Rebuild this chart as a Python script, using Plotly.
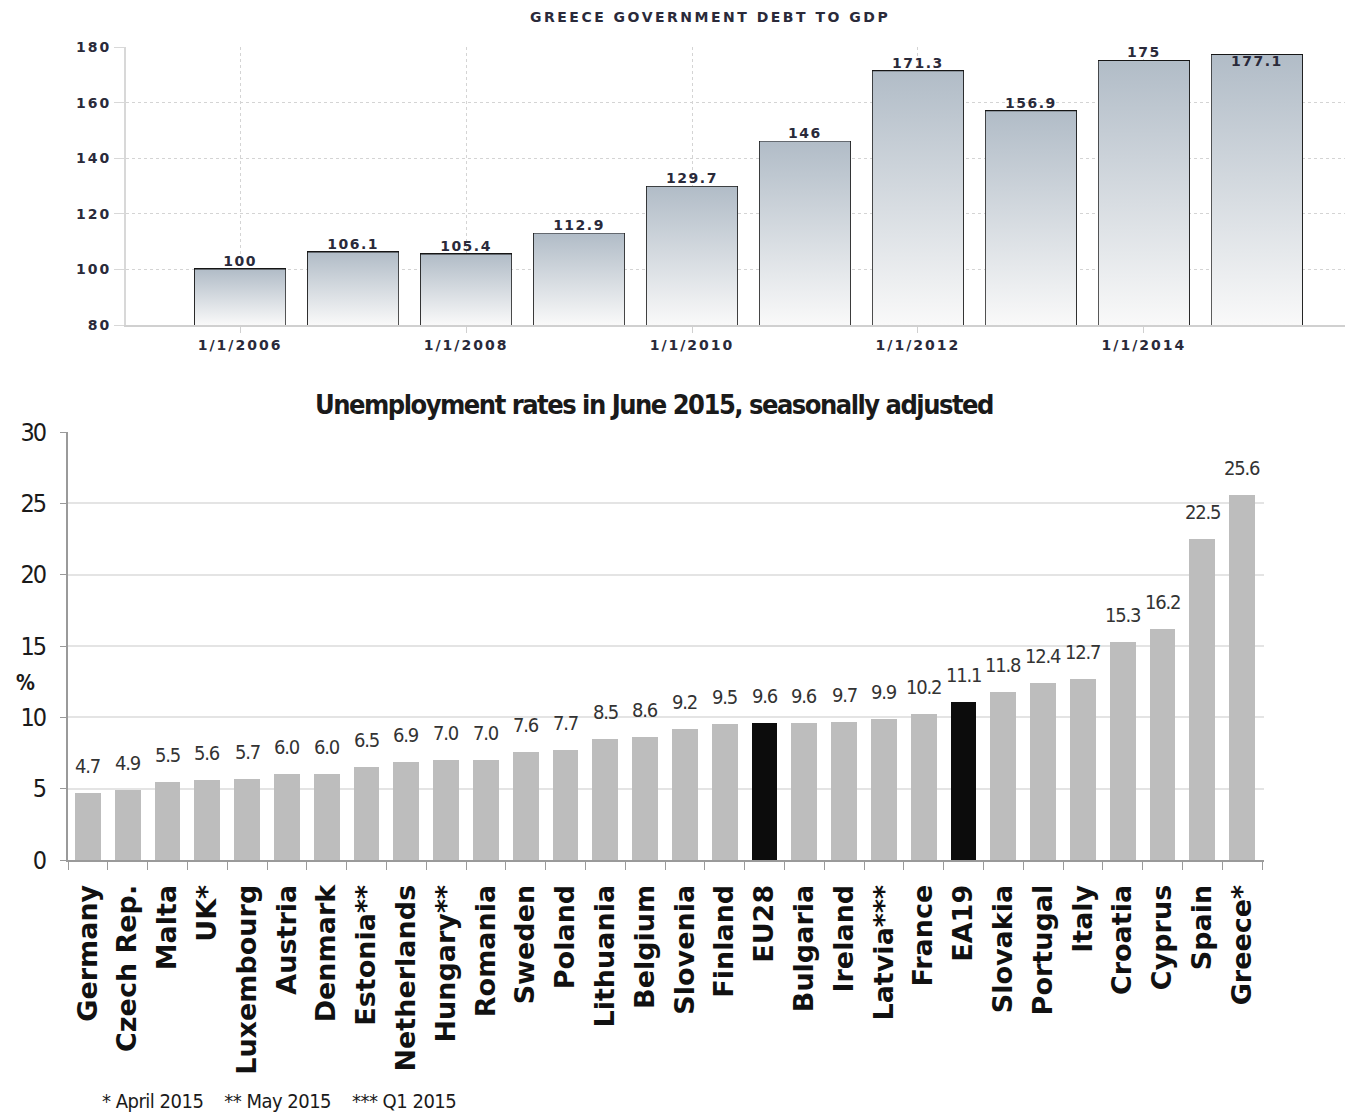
import plotly.graph_objects as go

# ---------------- data ----------------
debt_years = [2006, 2007, 2008, 2009, 2010, 2011, 2012, 2013, 2014, 2015]
debt_values = [100, 106.1, 105.4, 112.9, 129.7, 146, 171.3, 156.9, 175, 177.1]
debt_labels = ["100", "106.1", "105.4", "112.9", "129.7", "146", "171.3", "156.9", "175", "177.1"]
debt_tick_years = [2006, 2008, 2010, 2012, 2014]
debt_tick_labels = ["1/1/2006", "1/1/2008", "1/1/2010", "1/1/2012", "1/1/2014"]
debt_y_ticks = [80, 100, 120, 140, 160, 180]

countries = ["Germany", "Czech Rep.", "Malta", "UK*", "Luxembourg", "Austria", "Denmark",
             "Estonia**", "Netherlands", "Hungary**", "Romania", "Sweden", "Poland",
             "Lithuania", "Belgium", "Slovenia", "Finland", "EU28", "Bulgaria", "Ireland",
             "Latvia***", "France", "EA19", "Slovakia", "Portugal", "Italy", "Croatia",
             "Cyprus", "Spain", "Greece*"]
rates = [4.7, 4.9, 5.5, 5.6, 5.7, 6.0, 6.0, 6.5, 6.9, 7.0, 7.0, 7.6, 7.7, 8.5, 8.6,
         9.2, 9.5, 9.6, 9.6, 9.7, 9.9, 10.2, 11.1, 11.8, 12.4, 12.7, 15.3, 16.2, 22.5, 25.6]
highlight = ["EU28", "EA19"]
unemp_y_ticks = [0, 5, 10, 15, 20, 25, 30]

# ---------------- styles ----------------
W, H = 1346, 1115
TOP_FONT = "DejaVu Sans"
NARROW = "DejaVu Sans Condensed"
DEBT_BASE = 80
BAR_W = 0.8
TOP_TXT = "#2a2a3a"


def spaced(t, px=2):
    return f"<span style='letter-spacing:{px}px'>{t}</span>"


fig = go.Figure()

# gradient-filled bars (polygons built from the data values)
for yr, v in zip(debt_years, debt_values):
    x0, x1 = yr - BAR_W / 2, yr + BAR_W / 2
    fig.add_trace(go.Scatter(
        x=[x0, x0, x1, x1, x0], y=[DEBT_BASE, v, v, DEBT_BASE, DEBT_BASE],
        mode="lines", fill="toself", line=dict(width=0),
        fillgradient=dict(type="vertical",
                          colorscale=[[0, "#f9f9f9"], [1, "#b1bcc7"]]),
        hoverinfo="skip", showlegend=False, xaxis="x", yaxis="y"))

# bar outlines
fig.add_trace(go.Bar(
    x=debt_years, y=debt_values, width=BAR_W,
    marker=dict(color="rgba(0,0,0,0)", line=dict(color="#161616", width=2)),
    showlegend=False, xaxis="x", yaxis="y"))

# value labels for debt bars
fig.add_trace(go.Scatter(
    x=debt_years, y=debt_values, mode="text",
    text=[spaced(t, 1.5) for t in debt_labels],
    textposition=["top center"] * (len(debt_years) - 1) + ["bottom center"],
    textfont=dict(family=TOP_FONT, size=14, color=TOP_TXT, weight="bold"),
    cliponaxis=False, hoverinfo="skip", showlegend=False, xaxis="x", yaxis="y"))

# unemployment bars
colors = ["#0c0c0c" if c in highlight else "#bdbdbd" for c in countries]
fig.add_trace(go.Bar(
    x=countries, y=rates, width=0.65, marker=dict(color=colors, line=dict(width=0)),
    showlegend=False, xaxis="x2", yaxis="y2"))

annotations = []
for c, r in zip(countries, rates):
    annotations.append(dict(
        x=c, y=r, xref="x2", yref="y2", text=spaced(f"{r:.1f}", -1.2), showarrow=False,
        yshift=27, font=dict(family=NARROW, size=20, color="#333333")))

annotations += [
    dict(text=spaced("GREECE GOVERNMENT DEBT TO GDP", 2.5), x=710 / W, y=1 - 17 / H,
         xref="paper", yref="paper", showarrow=False, xanchor="center", yanchor="middle",
         font=dict(family=TOP_FONT, size=14, color=TOP_TXT, weight="bold")),
    dict(text=spaced("Unemployment rates in June 2015, seasonally adjusted", -1.5),
         x=654 / W, y=1 - 405 / H,
         xref="paper", yref="paper", showarrow=False, xanchor="center", yanchor="middle",
         font=dict(family=NARROW, size=27, color="#1a1a1a", weight="bold")),
    dict(text="%", x=25 / W, y=1 - 683 / H, xref="paper", yref="paper", showarrow=False,
         xanchor="center", yanchor="middle",
         font=dict(family=NARROW, size=21, color="#1a1a1a", weight="bold")),
    dict(text=spaced("* April 2015    ** May 2015    *** Q1 2015", -0.5),
         x=100 / W, y=1 - 1101 / H,
         xref="paper", yref="paper", showarrow=False, xanchor="left", yanchor="middle",
         font=dict(family=NARROW, size=20, color="#1a1a1a")),
]

fig.update_layout(
    width=W, height=H, margin=dict(l=0, r=0, t=0, b=0, autoexpand=False),
    paper_bgcolor="white", plot_bgcolor="white", bargap=0,
    annotations=annotations,
    xaxis=dict(domain=[126 / W, 1345 / W], anchor="y", automargin=False,
               range=[2004.99, 2015.78], tickvals=debt_tick_years,
               ticktext=[spaced(t, 2) for t in debt_tick_labels],
               showgrid=True, gridcolor="#d4d4d4", griddash="dot", gridwidth=1,
               showline=True, linecolor="#d0d0d0", linewidth=2,
               ticks="outside", ticklen=6, tickcolor="#d0d0d0",
               tickfont=dict(family=TOP_FONT, size=14, color=TOP_TXT, weight="bold"),
               zeroline=False, fixedrange=True),
    yaxis=dict(domain=[1 - 325 / H, 1 - 47 / H], anchor="x", automargin=False,
               range=[80, 180], tickvals=debt_y_ticks,
               ticktext=[spaced(str(t), 2) for t in debt_y_ticks],
               showgrid=True, gridcolor="#d4d4d4", griddash="dot", gridwidth=1,
               showline=True, linecolor="#d8d8d8", linewidth=2,
               ticks="outside", ticklen=10, tickcolor="#d8d8d8",
               tickfont=dict(family=TOP_FONT, size=14, color=TOP_TXT, weight="bold"),
               zeroline=False, fixedrange=True),
    xaxis2=dict(domain=[68 / W, 1264 / W], anchor="y2", type="category", automargin=False,
                range=[-0.5, len(countries) - 0.45],
                tickangle=-90, tickson="boundaries", ticks="outside", ticklen=8,
                tickcolor="#9a9a9a", ticklabelstandoff=12,
                showline=True, linecolor="#9a9a9a", linewidth=2, showgrid=False,
                tickfont=dict(family="DejaVu Sans", size=27, color="#111111", weight="bold"),
                fixedrange=True),
    yaxis2=dict(domain=[1 - 860 / H, 1 - 432 / H], anchor="x2", automargin=False,
                range=[0, 30], tickvals=unemp_y_ticks,
                ticktext=[spaced(str(t), -2) for t in unemp_y_ticks],
                showgrid=True, gridcolor="#e4e4e4", gridwidth=2,
                showline=True, linecolor="#9a9a9a", linewidth=2,
                ticks="outside", ticklen=6, tickcolor="#9a9a9a", ticklabelstandoff=10,
                tickfont=dict(family=NARROW, size=25, color="#1a1a1a"),
                zeroline=False, fixedrange=True),
)

fig.write_html("out.html")
